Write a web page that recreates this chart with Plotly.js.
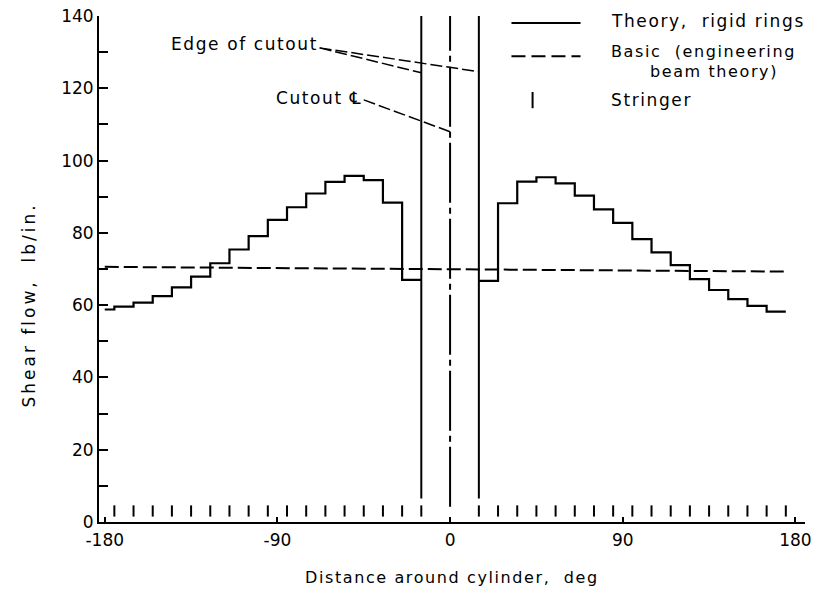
<!DOCTYPE html>
<html>
<head>
<meta charset="utf-8">
<script src="https://cdn.plot.ly/plotly-3.0.1.min.js"></script>
<style>
html,body{margin:0;padding:0;background:#fff}
#chart{width:817px;height:595px}
.annotation-text{letter-spacing:1.6px}
g.annotation[data-index="6"] .annotation-text{letter-spacing:3px}
</style>
</head>
<body>
<div id="chart"></div>
<script>
// ---- data ----
// Theory, rigid rings: panel start angles (deg) and shear flow (lb/in.)
const leftPanelStart = [-180, -175, -165, -155, -145, -135, -125, -115, -105, -95, -85, -75, -65, -55, -45, -35, -25];
const leftPanelFlow  = [58.8, 59.6, 60.7, 62.5, 64.9, 67.9, 71.6, 75.4, 79.1, 83.6, 87.1, 90.9, 94.1, 95.8, 94.6, 88.4, 67.0];
const leftPanelEnd = -15;
const rightPanelStart = [15, 25, 35, 45, 55, 65, 75, 85, 95, 105, 115, 125, 135, 145, 155, 165];
const rightPanelFlow  = [66.7, 88.2, 94.2, 95.4, 93.7, 90.3, 86.5, 82.8, 78.3, 74.6, 71.1, 67.2, 64.2, 61.7, 59.8, 58.2];
const rightPanelEnd = 175;
// Basic (engineering beam theory)
const basicAngle = [-180, 0, 176];
const basicFlow  = [70.6, 70.0, 69.3];
// Cutout edges and centre line
const cutoutEdges = [-15, 15];
const cutoutCenter = 0;
const cutoutLineRange = [6.5, 140];
const centerLineRange = [4.2, 140];
// Stringer locations
const stringerAngles = [-175, -165, -155, -145, -135, -125, -115, -105, -95, -85, -75, -65, -55, -45, -35, -25, -15,
                        15, 25, 35, 45, 55, 65, 75, 85, 95, 105, 115, 125, 135, 145, 155, 165, 175];
const stringerRange = [1.5, 4.6];
// Axis ticks
const xTickVals = [-180, -90, 0, 90, 180];
const xTickText = ['-180', '-90', '0', '90', '180'];

// ---- build traces ----
const FONT = 'DejaVu Sans, sans-serif';
const black = '#000';
function stepTrace(starts, vals, end) {
  return {
    x: starts.concat([end]), y: vals.concat([vals[vals.length - 1]]),
    mode: 'lines', line: {shape: 'hv', color: black, width: 2.2}, hoverinfo: 'skip', showlegend: false
  };
}
function vlines(xs, range) {
  const x = [], y = [];
  xs.forEach(v => { x.push(v, v, null); y.push(range[0], range[1], null); });
  return {x, y};
}
const edges = vlines(cutoutEdges, cutoutLineRange);
const center = vlines([cutoutCenter], centerLineRange);
const str = vlines(stringerAngles, stringerRange);

const traces = [
  stepTrace(leftPanelStart, leftPanelFlow, leftPanelEnd),
  stepTrace(rightPanelStart, rightPanelFlow, rightPanelEnd),
  {x: basicAngle, y: basicFlow, mode: 'lines', line: {color: black, width: 2, dash: '14px,5px'}, hoverinfo: 'skip', showlegend: false},
  {x: edges.x, y: edges.y, mode: 'lines', line: {color: black, width: 2}, hoverinfo: 'skip', showlegend: false},
  {x: center.x, y: center.y, mode: 'lines', line: {color: black, width: 2, dash: '60px,5px,6px,5px'}, hoverinfo: 'skip', showlegend: false},
  {x: str.x, y: str.y, mode: 'lines', line: {color: black, width: 2}, hoverinfo: 'skip', showlegend: false}
];

const txt = (s, x, y, opts) => Object.assign({text: s, x: x, y: y, xref: 'x', yref: 'y', showarrow: false,
  xanchor: 'left', yanchor: 'middle', font: {family: FONT, size: 17, color: black}}, opts || {});

const layout = {
  width: 817, height: 595,
  margin: {l: 99, r: 12, t: 16, b: 73},
  paper_bgcolor: '#fff', plot_bgcolor: '#fff',
  font: {family: FONT, size: 17, color: black},
  showlegend: false,
  xaxis: {
    range: [-183, 185], tickvals: xTickVals, ticktext: xTickText,
    ticks: 'inside', ticklen: 5, tickwidth: 2, tickcolor: black, ticklabelstandoff: 2,
    showline: true, linecolor: black, linewidth: 2, showgrid: false, zeroline: false,
    tickfont: {family: FONT, size: 17, color: black}
  },
  yaxis: {
    range: [0, 140.02], dtick: 20, tick0: 0,
    ticks: 'inside', ticklen: 9, tickwidth: 2, tickcolor: black,
    minor: {dtick: 10, ticks: 'inside', ticklen: 9, tickwidth: 2, tickcolor: black},
    showline: true, linecolor: black, linewidth: 2, showgrid: false, zeroline: false,
    tickfont: {family: FONT, size: 17, color: black}
  },
  shapes: [
    // legend samples
    {type: 'line', xref: 'x', yref: 'y', x0: 32, x1: 68, y0: 138.1, y1: 138.1, line: {color: black, width: 2}},
    {type: 'line', xref: 'x', yref: 'y', x0: 32, x1: 68, y0: 128.9, y1: 128.9, line: {color: black, width: 2, dash: '14px,6px'}},
    {type: 'line', xref: 'x', yref: 'y', x0: 43, x1: 43, y0: 114.5, y1: 119, line: {color: black, width: 2}},
    // leaders
    {type: 'line', xref: 'x', yref: 'y', x0: -68, y0: 131.2, x1: -15, y1: 124.3, line: {color: black, width: 1.5, dash: '12px,4px'}},
    {type: 'line', xref: 'x', yref: 'y', x0: -68, y0: 131.2, x1: 15, y1: 124.6, line: {color: black, width: 1.5, dash: '12px,4px'}},
    {type: 'line', xref: 'x', yref: 'y', x0: -45, y0: 116.8, x1: 0, y1: 108, line: {color: black, width: 1.5, dash: '12px,4px'}}
  ],
  annotations: [
    txt('Theory,  rigid rings', 83, 138.6),
    txt('Basic  (engineering', 83, 130.3, {font: {family: FONT, size: 16, color: black}}),
    txt('beam theory)', 103, 124.8, {font: {family: FONT, size: 16, color: black}}),
    txt('Stringer', 83, 116.8),
    txt('Edge of cutout', -146.6, 132.2),
    txt('Cutout ℄', -91.8, 117.2),
    {text: 'Shear flow,  lb/in.', xref: 'paper', yref: 'paper', x: -0.098, y: 0.43, textangle: -90,
     showarrow: false, xanchor: 'center', yanchor: 'middle', font: {family: FONT, size: 17, color: black}},
    {text: 'Distance around cylinder,  deg', xref: 'paper', yref: 'paper', x: 0.5, y: -0.11,
     showarrow: false, xanchor: 'center', yanchor: 'middle', font: {family: FONT, size: 16, color: black}}
  ]
};

Plotly.newPlot('chart', traces, layout, {staticPlot: true, displayModeBar: false});
</script>
</body>
</html>
